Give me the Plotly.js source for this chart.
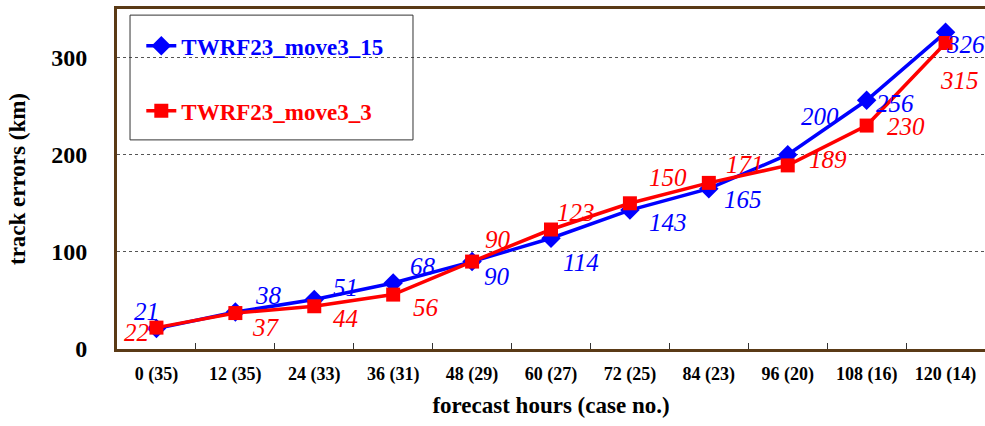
<!DOCTYPE html>
<html>
<head>
<meta charset="utf-8">
<script src="https://cdn.plot.ly/plotly-3.0.1.min.js"></script>
<style>html,body{margin:0;padding:0;background:#fff;}#chart{width:985px;height:426px;}</style>
</head>
<body>
<div id="chart"></div>
<script>
var categories = ["0 (35)", "12 (35)", "24 (33)", "36 (31)", "48 (29)", "60 (27)", "72 (25)", "84 (23)", "96 (20)", "108 (16)", "120 (14)"];
var seriesNames = ["TWRF23_move3_15", "TWRF23_move3_3"];
var move3_15 = [21, 38, 51, 68, 90, 114, 143, 165, 200, 256, 326];
var move3_3 = [22, 37, 44, 56, 90, 123, 150, 171, 189, 230, 315];
var yTicks = [0, 100, 200, 300];

var BLUE = "#0000ff", RED = "#ff0000", FRAME = "#5a3a16";
var SERIF = '"Liberation Serif", "Times New Roman", Times, serif';

// label offsets in pixels [dx, dy(down)] for readability
var offBlue = [[-10,-17],[33,-17],[31,-12],[30,-16],[25,15],[30,24],[38,12],[34,11],[32,-38],[28,3],[20,12]];
var offRed  = [[-20,5],[31,14],[31,12],[33,13],[26,-22],[25,-17],[38,-26],[36,-18],[40,-6],[39,1],[14,37]];

function colored(txt, c) { return '<span style="color:' + c + '">' + txt + '</span>'; }

var traces = [
  {x: categories, y: move3_15, name: colored(seriesNames[0], BLUE), type: "scatter", mode: "lines+markers",
   legendgroup: "a",
   line: {color: BLUE, width: 3.5}, marker: {symbol: "diamond", size: 15, color: BLUE}},
  {x: categories, y: move3_3, name: colored(seriesNames[1], RED), type: "scatter", mode: "lines+markers",
   legendgroup: "b",
   line: {color: RED, width: 3.5}, marker: {symbol: "square", size: 14, color: RED}}
];

var annotations = [];
function addLabels(vals, offs, color) {
  for (var i = 0; i < vals.length; i++) {
    annotations.push({x: categories[i], y: vals[i], xref: "x", yref: "y", text: String(vals[i]),
      showarrow: false, xshift: offs[i][0], yshift: -offs[i][1],
      font: {family: SERIF, size: 25, color: color, style: "italic"}});
  }
}
addLabels(move3_15, offBlue, BLUE);
addLabels(move3_3, offRed, RED);

var layout = {
  width: 985, height: 426,
  margin: {l: 117, r: 0, t: 9, b: 77, pad: 0},
  paper_bgcolor: "#fff", plot_bgcolor: "#fff",
  font: {family: SERIF},
  showlegend: true,
  legend: {x: 0.028, y: 0.955, xanchor: "left", yanchor: "top", bgcolor: "rgba(0,0,0,0)",
    borderwidth: 0, traceorder: "grouped", tracegroupgap: 32,
    font: {family: SERIF, size: 23, color: "#000", weight: "bold"}},
  xaxis: {type: "category", range: [-0.5, categories.length - 0.5], autorange: false,
    showgrid: false, zeroline: false, automargin: true,
    showline: true, mirror: true, linecolor: FRAME, linewidth: 3,
    ticks: "inside", tickson: "boundaries", ticklen: 6, tickcolor: "#333", tickwidth: 1,
    tickfont: {family: SERIF, size: 18, color: "#000", weight: "bold"},
    ticklabelstandoff: 6,
    title: {text: "forecast hours (case no.)", standoff: 14,
      font: {family: SERIF, size: 23, color: "#000", weight: "bold"}}},
  yaxis: {range: [0, 350], autorange: false, tickvals: yTicks, showgrid: true, gridcolor: "#555", griddash: "dot", gridwidth: 1,
    zeroline: false, showline: true, linecolor: FRAME, linewidth: 3, ticks: "", automargin: true,
    tickfont: {family: SERIF, size: 24, color: "#000", weight: "bold"},
    ticklabelstandoff: 22,
    title: {text: "track errors (km)", standoff: 20,
      font: {family: SERIF, size: 23, color: "#000", weight: "bold"}}},
  shapes: [{type: "rect", xref: "paper", yref: "paper", x0: 0.015, x1: 0.341, y0: 0.615, y1: 0.982,
    line: {color: "#333", width: 1}, fillcolor: "rgba(255,255,255,0)", layer: "above"}],
  annotations: annotations
};

Plotly.newPlot("chart", traces, layout, {staticPlot: true, displayModeBar: false});
</script>
</body>
</html>
